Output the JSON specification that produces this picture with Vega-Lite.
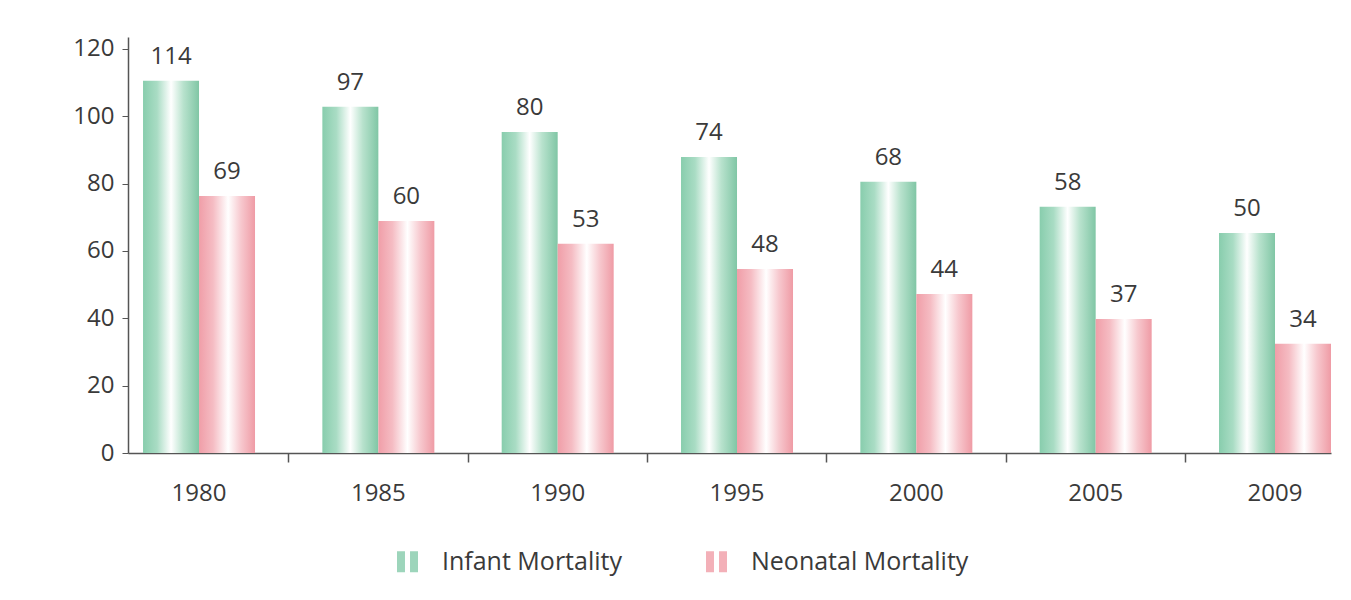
{
  "$schema": "https://vega.github.io/schema/vega-lite/v6.json",
  "width": 1203,
  "height": 416,
  "autosize": {"type": "none"},
  "padding": {"left": 128, "top": 37, "right": 20, "bottom": 147},
  "background": "white",
  "config": {"view": {"stroke": null}, "font": "Open Sans"},
  "data": {
    "values": [
      {"year": "1980", "series": "Infant Mortality", "height": 110.5, "label": "114"},
      {"year": "1980", "series": "Neonatal Mortality", "height": 76.3, "label": "69"},
      {"year": "1985", "series": "Infant Mortality", "height": 102.8, "label": "97"},
      {"year": "1985", "series": "Neonatal Mortality", "height": 68.9, "label": "60"},
      {"year": "1990", "series": "Infant Mortality", "height": 95.3, "label": "80"},
      {"year": "1990", "series": "Neonatal Mortality", "height": 62.1, "label": "53"},
      {"year": "1995", "series": "Infant Mortality", "height": 87.9, "label": "74"},
      {"year": "1995", "series": "Neonatal Mortality", "height": 54.6, "label": "48"},
      {"year": "2000", "series": "Infant Mortality", "height": 80.5, "label": "68"},
      {"year": "2000", "series": "Neonatal Mortality", "height": 47.2, "label": "44"},
      {"year": "2005", "series": "Infant Mortality", "height": 73.1, "label": "58"},
      {"year": "2005", "series": "Neonatal Mortality", "height": 39.8, "label": "37"},
      {"year": "2009", "series": "Infant Mortality", "height": 65.3, "label": "50"},
      {"year": "2009", "series": "Neonatal Mortality", "height": 32.4, "label": "34"}
    ]
  },
  "encoding": {
    "xOffset": {
      "field": "series",
      "type": "nominal",
      "scale": {"domain": ["Infant Mortality", "Neonatal Mortality"], "paddingInner": 0, "paddingOuter": 0}
    },
    "y": {
      "field": "height",
      "type": "quantitative",
      "scale": {"domain": [0, 123.5], "nice": false},
      "axis": {
        "title": null,
        "values": [0, 20, 40, 60, 80, 100, 120],
        "grid": false,
        "labelFontSize": 24,
        "labelColor": "#3a3a3a",
        "labelPadding": 8,
        "tickSize": 6,
        "tickColor": "#555555",
        "domainColor": "#555555",
        "domainWidth": 1.5
      }
    }
  },
  "resolve": {"axis": {"x": "independent"}},
  "layer": [
    {
      "mark": {"type": "bar", "opacity": 0},
      "encoding": {
        "x": {
          "field": "year",
          "type": "ordinal",
          "scale": {"paddingInner": 0.3755, "paddingOuter": 0.0419, "align": 1},
          "axis": null
        },
        "color": {
          "field": "series",
          "type": "nominal",
          "scale": {"domain": ["Infant Mortality", "Neonatal Mortality"], "range": ["#9dd5bb", "#f3b0b8"]},
          "legend": {
            "title": null,
            "orient": "none",
            "legendX": 267,
            "legendY": 512,
            "direction": "horizontal",
            "symbolType": "M-1,-1H-0.24V1H-1Z M0.24,-1H1V1H0.24Z",
            "symbolSize": 441,
            "symbolOpacity": 1,
            "symbolStrokeWidth": 0,
            "labelFontSize": 25,
            "labelColor": "#3a3a3a",
            "labelOffset": 22,
            "labelLimit": 0,
            "columnPadding": 82
          }
        }
      }
    },
    {
      "mark": {"type": "bar"},
      "encoding": {
        "x": {
          "field": "year",
          "type": "ordinal",
          "axis": {
            "orient": "bottom",
            "labels": false,
            "domain": false,
            "title": null,
            "bandPosition": 1.3006,
            "tickSize": 9,
            "tickWidth": 1.5,
            "tickColor": "#555555"
          }
        },
        "fill": {
          "condition": {
            "test": "datum.series === 'Infant Mortality'",
            "value": {"gradient": "linear", "x1": 0, "y1": 0, "x2": 1, "y2": 0, "stops": [
              {"offset": 0, "color": "#88cdad"},
              {"offset": 0.25, "color": "#a9dcc4"},
              {"offset": 0.5, "color": "#ffffff"},
              {"offset": 0.72, "color": "#b8e2cd"},
              {"offset": 1, "color": "#80c6a5"}
            ]}
          },
          "value": {"gradient": "linear", "x1": 0, "y1": 0, "x2": 1, "y2": 0, "stops": [
            {"offset": 0, "color": "#f09ea8"},
            {"offset": 0.25, "color": "#f5bcc3"},
            {"offset": 0.52, "color": "#ffffff"},
            {"offset": 0.75, "color": "#f7c8ce"},
            {"offset": 1, "color": "#ef9ba5"}
          ]}
        }
      }
    },
    {
      "mark": {"type": "text", "baseline": "alphabetic", "dy": -17, "fontSize": 24, "color": "#3a3a3a"},
      "encoding": {
        "x": {
          "field": "year",
          "type": "ordinal",
          "axis": {
            "orient": "bottom",
            "title": null,
            "labelAngle": 0,
            "labelFontSize": 24,
            "labelColor": "#3a3a3a",
            "labelPadding": 28,
            "ticks": false,
            "domainColor": "#555555",
            "domainWidth": 1.5
          }
        },
        "text": {"field": "label", "type": "nominal"}
      }
    }
  ]
}
